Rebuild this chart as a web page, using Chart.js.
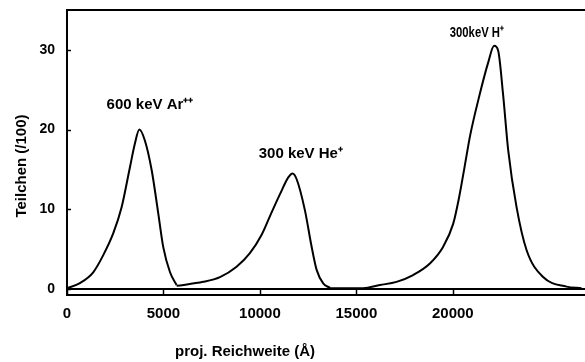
<!DOCTYPE html>
<html>
<head>
<meta charset="utf-8">
<script src="https://cdn.jsdelivr.net/npm/chart.js@4/dist/chart.umd.min.js"></script>
<style>
  html, body { margin: 0; padding: 0; background: #fff; }
  canvas { display: block; }
</style>
</head>
<body>
<canvas id="chart" width="585" height="362"></canvas>
<script>
// Projected range profiles (Angstrom vs particle count / 100)
const arRange  = [0, 670, 1360, 1880, 2400, 2830, 3260, 3520, 3750, 4040, 4390, 4730, 4990, 5340, 5680];
const arCounts = [0.1, 0.75, 2.1, 4.25, 7, 10.25, 15.25, 18.25, 20, 18.6, 14.9, 9.5, 5.25, 2.1, 0.5];

const heRange  = [5680, 7060, 7930, 8790, 9480, 10090, 10550, 11040, 11470, 11690, 11900, 12330, 12680, 12940, 13280, 13630];
const heCounts = [0.4, 0.9, 1.5, 2.8, 4.5, 6.8, 9.3, 11.9, 14, 14.5, 13.8, 9.9, 5.3, 2.4, 0.7, 0.15];

const hRange  = [13630, 15350, 16220, 17080, 17940, 18810, 19500, 20020, 20300, 20600, 20900, 21380, 21830, 22140, 22350, 22600, 22870, 23300, 23820, 24680, 25890, 26670];
const hCounts = [0.1, 0.1, 0.5, 0.9, 1.75, 3.2, 5.3, 8.2, 11.2, 15.2, 19.3, 24.3, 28.4, 30.5, 29.9, 24.5, 17.4, 10.3, 4.9, 1.5, 0.3, 0.1];

const baseRange  = [0, 27000];
const baseCounts = [0, 0];

const xTicks = [0, 5000, 10000, 15000, 20000];
const yTicks = [0, 10, 20, 30];

const peakLabels = [
  { text: '600 keV Ar\u207A\u207A', x: 4300, y: 23.1, maxWidth: 94 },
  { text: '300 keV He\u207A', x: 12120, y: 16.9, maxWidth: 88 },
  { text: '300keV H\u207A', x: 21240, y: 32.1, maxWidth: 54 }
];

const toPoints = (xs, ys) => xs.map((x, i) => ({ x: x, y: ys[i] }));

const FONT = "'Liberation Sans', Arial, sans-serif";

function curve(xs, ys) {
  return {
    data: toPoints(xs, ys),
    showLine: true,
    borderColor: '#000',
    borderWidth: 2,
    pointRadius: 0,
    cubicInterpolationMode: 'monotone',
    fill: false
  };
}

// frame top line, inward ticks, titles and peak captions
const decorations = {
  id: 'decorations',
  afterDraw(chart) {
    const ctx = chart.ctx;
    const area = chart.chartArea;
    const xs = chart.scales.x;
    const ys = chart.scales.y;
    ctx.save();
    ctx.strokeStyle = '#000';
    ctx.lineWidth = 2;
    ctx.beginPath();
    ctx.moveTo(area.left - 1, area.top);
    ctx.lineTo(area.right, area.top);
    ctx.stroke();

    ctx.lineWidth = 1.5;
    xTicks.forEach(v => {
      const px = Math.round(xs.getPixelForValue(v)) + 0.5;
      ctx.beginPath();
      ctx.moveTo(px, area.bottom);
      ctx.lineTo(px, area.bottom - 5);
      ctx.stroke();
    });
    yTicks.forEach(v => {
      const py = Math.round(ys.getPixelForValue(v)) + 0.5;
      ctx.beginPath();
      ctx.moveTo(area.left, py);
      ctx.lineTo(area.left + 4, py);
      ctx.stroke();
    });

    ctx.fillStyle = '#000';
    ctx.font = 'bold 15px ' + FONT;
    ctx.textAlign = 'center';
    ctx.textBaseline = 'middle';
    ctx.fillText('proj. Reichweite (\u00C5)', 245, 352);

    ctx.save();
    ctx.translate(22, 166);
    ctx.rotate(-Math.PI / 2);
    ctx.fillText('Teilchen (/100)', 0, 0);
    ctx.restore();

    ctx.font = 'bold 15px ' + FONT;
    peakLabels.forEach(l => {
      ctx.fillText(l.text, xs.getPixelForValue(l.x), ys.getPixelForValue(l.y), l.maxWidth);
    });
    ctx.restore();
  }
};

new Chart(document.getElementById('chart'), {
  type: 'scatter',
  data: {
    datasets: [
      curve(baseRange, baseCounts),
      curve(arRange, arCounts),
      curve(heRange, heCounts),
      curve(hRange, hCounts)
    ]
  },
  options: {
    responsive: false,
    animation: false,
    layout: { padding: { top: 10, right: 0, left: 0, bottom: 0 } },
    plugins: {
      legend: { display: false },
      tooltip: { enabled: false }
    },
    scales: {
      x: {
        type: 'linear',
        min: 0,
        max: 26850,
        afterBuildTicks: scale => { scale.ticks = xTicks.map(v => ({ value: v })); },
        afterFit: scale => {
          scale.height = 67;
          scale.paddingLeft = 0;
          scale.paddingRight = 0;
        },
        grid: { drawOnChartArea: false, drawTicks: false },
        border: { color: '#000', width: 2 },
        ticks: {
          padding: 10,
          color: '#000',
          maxRotation: 0,
          font: { family: FONT, size: 15, weight: 'bold' },
          callback: v => String(v)
        }
      },
      y: {
        type: 'linear',
        min: -0.75,
        max: 35,
        afterBuildTicks: scale => { scale.ticks = yTicks.map(v => ({ value: v })); },
        afterFit: scale => {
          scale.width = 67;
          scale.paddingTop = 0;
          scale.paddingBottom = 0;
        },
        grid: { drawOnChartArea: false, drawTicks: false },
        border: { color: '#000', width: 2 },
        ticks: {
          padding: 12,
          color: '#000',
          font: { family: FONT, size: 14, weight: 'bold' }
        }
      }
    }
  },
  plugins: [decorations]
});
</script>
</body>
</html>
